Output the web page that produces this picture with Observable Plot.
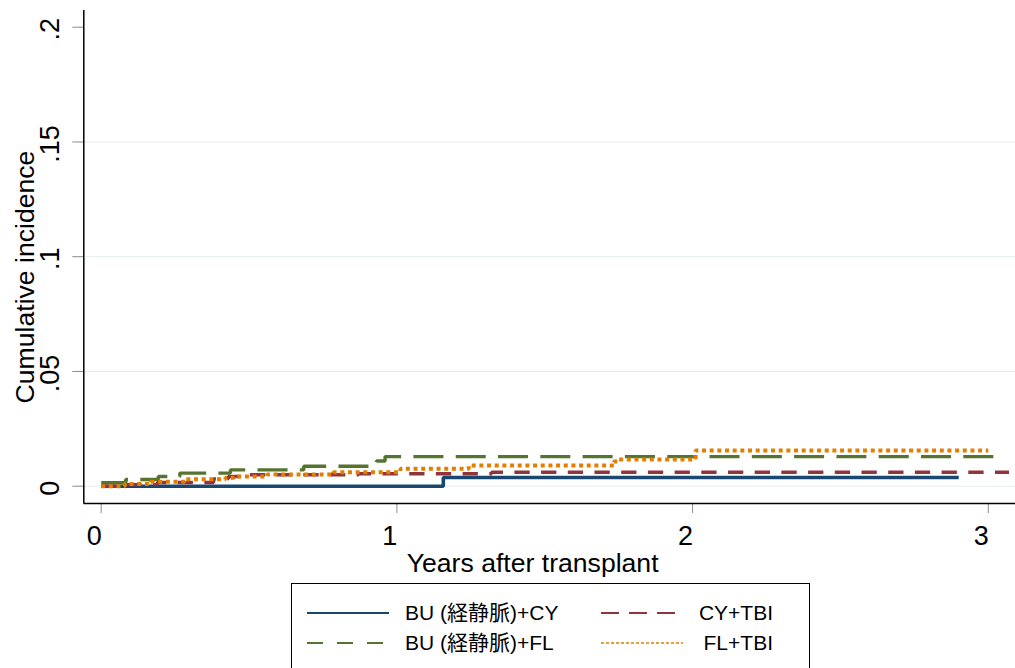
<!DOCTYPE html>
<html>
<head>
<meta charset="utf-8">
<script src="https://cdn.jsdelivr.net/npm/d3@7"></script>
<script src="https://cdn.jsdelivr.net/npm/@observablehq/plot@0.6"></script>
<style>
  html, body { margin: 0; padding: 0; background: white; }
  body { width: 1015px; height: 668px; position: relative; overflow: hidden;
         font-family: "Liberation Sans", Arial, "Noto Sans CJK JP", sans-serif; }
  #chart { position: absolute; left: 0; top: 0; }
  #legend { position: absolute; left: 291px; top: 583px; width: 519px; height: 110px;
            border: 1.5px solid #000; box-sizing: border-box; background: white; }
  .lg-sample { position: absolute; width: 82px; height: 8px; }
  .lg-label { position: absolute; font-size: 21px; line-height: 24px; color: #000; white-space: nowrap; }
</style>
</head>
<body>
<div id="chart"></div>
<div id="legend"></div>
<script>
// ---- data ----
const seriesNames = ["BU (経静脈)+CY", "BU (経静脈)+FL", "CY+TBI", "FL+TBI"];

const buCyTime  = [0, 1.157, 2.90];
const buCyValue = [0, 0.0038, 0.0038];

const buFlTime  = [0, 0.083, 0.193, 0.266, 0.437, 0.685, 0.931, 0.960, 3.02];
const buFlValue = [0.0015, 0.0029, 0.0042, 0.0057, 0.0071, 0.0087, 0.0110, 0.0129, 0.0129];

const cyTbiTime  = [0, 0.080, 0.190, 0.380, 0.430, 0.500, 0.870, 1.320, 3.07];
const cyTbiValue = [0, 0.0007, 0.0016, 0.0032, 0.0042, 0.0050, 0.0054, 0.0061, 0.0061];

const flTbiTime  = [0, 0.080, 0.167, 0.282, 0.420, 0.450, 0.561, 0.785, 1.012, 1.243, 1.734, 1.750, 2.010, 3.00];
const flTbiValue = [0, 0.0010, 0.0019, 0.0030, 0.0037, 0.0042, 0.0051, 0.0061, 0.0076, 0.0090, 0.0108, 0.0116, 0.0156, 0.0156];

const xTicks = [0, 1, 2, 3];
const xTickLabels = ["0", "1", "2", "3"];
const yTicks = [0, 0.05, 0.1, 0.15, 0.2];
const yTickLabels = ["0", ".05", ".1", ".15", ".2"];
const yGrid = [0, 0.05, 0.1, 0.15];

const xTitle = "Years after transplant";
const yTitle = "Cumulative incidence";

// ---- styles ----
const colors = ["#1a476f", "#55752f", "#90353b", "#e37e00"];
const dashes = [null, "30,12.3", "15.3,11.4", "4,3.67"];
const widths = [3.6, 3.4, 3.4, 4];
const legendDashes = [null, "16,14", "18,10", "3,2"];

const toRows = (t, v) => t.map((d, i) => ({t: d, v: v[i]}));
const series = [
  toRows(buCyTime, buCyValue),
  toRows(buFlTime, buFlValue),
  toRows(cyTbiTime, cyTbiValue),
  toRows(flTbiTime, flTbiValue)
];

const xDomain = [-0.0588, 3.092];
const yDomain = [-0.00754, 0.20728];
const font = '"Liberation Sans", Arial, "Noto Sans CJK JP", sans-serif';

const lineMarks = series.map((rows, i) => Plot.line(rows, {
  x: "t", y: "v", curve: "step-after",
  stroke: colors[i], strokeWidth: widths[i],
  strokeDasharray: dashes[i] || undefined,
  strokeLinecap: "butt", strokeLinejoin: "miter"
}));

const plot = Plot.plot({
  width: 1015, height: 578,
  marginLeft: 83.3, marginRight: 0, marginTop: 10, marginBottom: 75,
  x: {domain: xDomain, axis: null},
  y: {domain: yDomain, axis: null},
  style: {fontFamily: font, fontSize: "26px", color: "#000", background: "white", overflow: "visible"},
  marks: [
    Plot.ruleY(yGrid, {stroke: "#e6eef0", strokeWidth: 1}),
    Plot.axisY({ticks: yTicks, tickSize: 11, tickFormat: () => "", label: null, stroke: "#8a8a8a"}),
    Plot.axisX({ticks: xTicks, tickSize: 10, tickFormat: () => "", label: null, stroke: "#8a8a8a"}),
    ...lineMarks,
    Plot.ruleX([xDomain[0]], {stroke: "#000", strokeWidth: 1.5}),
    Plot.ruleY([yDomain[0]], {stroke: "#000", strokeWidth: 1.5}),
    Plot.text(yTicks, {y: d => d, text: (d, i) => yTickLabels[i], frameAnchor: "left",
      textAnchor: "middle", lineAnchor: "middle",
      dx: -33, dy: 2, rotate: -90, fontSize: 27, fill: "#000"}),
    Plot.text(xTicks, {x: d => d, text: (d, i) => xTickLabels[i], frameAnchor: "bottom",
      textAnchor: "middle", lineAnchor: "middle",
      dx: -7, dy: 33, fontSize: 27, fill: "#000"}),
    Plot.text([xTitle], {frameAnchor: "bottom", textAnchor: "middle", lineAnchor: "middle",
      dx: -17, dy: 60, fontSize: 26.6, fill: "#000"}),
    Plot.text([yTitle], {frameAnchor: "left", textAnchor: "middle", lineAnchor: "middle",
      dx: -58, dy: 20, rotate: -90, fontSize: 26.6, fill: "#000"})
  ]
});
document.getElementById("chart").appendChild(plot);

// ---- legend ----
const legend = document.getElementById("legend");
const order = [0, 2, 1, 3]; // row-major: row1 col1, row1 col2, row2 col1, row2 col2
const rowCenters = [29, 59];
order.forEach((s, k) => {
  const row = Math.floor(k / 2), col = k % 2;
  const svgNS = "http://www.w3.org/2000/svg";
  const svg = document.createElementNS(svgNS, "svg");
  svg.setAttribute("class", "lg-sample");
  svg.setAttribute("width", 82); svg.setAttribute("height", 8);
  svg.style.left = (col === 0 ? 15 : 309) + "px";
  svg.style.top = (rowCenters[row] - 4) + "px";
  const ln = document.createElementNS(svgNS, "line");
  ln.setAttribute("x1", 0); ln.setAttribute("x2", 82);
  ln.setAttribute("y1", 4); ln.setAttribute("y2", 4);
  ln.setAttribute("stroke", colors[s]);
  ln.setAttribute("stroke-width", s === 3 ? 1.3 : 1.8);
  if (legendDashes[s]) ln.setAttribute("stroke-dasharray", legendDashes[s]);
  svg.appendChild(ln);
  legend.appendChild(svg);
  const lab = document.createElement("div");
  lab.className = "lg-label";
  lab.textContent = seriesNames[s];
  lab.style.top = (rowCenters[row] - 12) + "px";
  if (col === 0) lab.style.left = "113px";
  else lab.style.right = "36px";
  legend.appendChild(lab);
});
</script>
</body>
</html>
